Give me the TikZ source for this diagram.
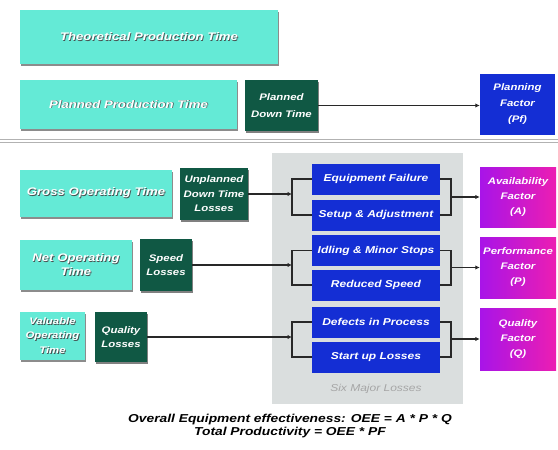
\documentclass[tikz,border=0pt]{standalone}
\usepackage{fontspec}
\setmainfont[FakeStretch=1.2]{Liberation Sans}
\usetikzlibrary{arrows.meta,shadows}
\definecolor{turq}{RGB}{100,234,214}
\definecolor{darkgrn}{RGB}{16,88,68}
\definecolor{lossblue}{RGB}{20,46,212}
\definecolor{factorvio}{RGB}{168,20,232}
\definecolor{factormag}{RGB}{236,30,178}
\definecolor{panelgray}{RGB}{218,222,222}
\definecolor{linegray}{RGB}{40,40,40}
\definecolor{shadowgray}{RGB}{70,80,80}
\newcommand{\sh}[1]{\leavevmode\rlap{\kern0.8pt\raisebox{-0.8pt}{\textcolor{shadowgray}{#1}}}#1}

\begin{document}
\begin{tikzpicture}[x=1pt, y=-1pt,
	box/.style={rectangle, inner sep=1pt, align=center, text=white, font=\bfseries\itshape\fontsize{10}{11}\selectfont},
	timebox/.style={box, fill=turq, font=\bfseries\itshape\fontsize{11}{14}\selectfont, drop shadow={shadow xshift=1pt, shadow yshift=-1.6pt, fill=black!45, opacity=1}},
	lossbox/.style={box, fill=darkgrn, font=\bfseries\itshape\fontsize{9.5}{14.5}\selectfont, drop shadow={shadow xshift=1pt, shadow yshift=-1.6pt, fill=black!50, opacity=1}},
	majorbox/.style={box, fill=lossblue, minimum width=128, minimum height=31},
	factorbox/.style={box, left color=factorvio, right color=factormag, minimum width=76, font=\bfseries\itshape\fontsize{9.5}{15}\selectfont},
	link/.style={draw=linegray, line width=1.2pt},
	arr/.style={link, -{Latex[length=4.5pt,width=4.5pt]}}]
\useasboundingbox (0,0) rectangle (558,450);

% upper part
\node[timebox, minimum width=258, minimum height=54] (tpt) at (149,37) {\sh{Theoretical Production Time}};
\node[timebox, minimum width=217, minimum height=49] (ppt) at (128.5,104.5) {\sh{Planned Production Time}};
\node[lossbox, minimum width=73, minimum height=51, font=\bfseries\itshape\fontsize{9.5}{16.5}\selectfont] (pdt) at (281.5,105.5) {Planned\\Down Time};
\node[box, fill=lossblue, minimum width=75, minimum height=61, font=\bfseries\itshape\fontsize{9.5}{16}\selectfont] (pf) at (517.5,104.5) {Planning\\Factor\\(Pf)};
\draw[arr] (pdt.east) -- (pdt.east -| pf.west);

\draw[gray!60, line width=0.8pt] (0,139) -- (558,139) (0,142) -- (558,142);

% six major losses
\fill[panelgray] (272,153) rectangle (463,404);
\node[text=gray!70, font=\itshape\fontsize{10}{11}\selectfont] (sml) at (376,389) {Six Major Losses};
\foreach \n/\y/\t in {ef/179/Equipment Failure, sa/215/Setup \& Adjustment, im/250.5/Idling \& Minor Stops, rs/285/Reduced Speed, dp/322/Defects in Process, su/357/Start up Losses}
	\node[majorbox] (\n) at (376,\y) {\t};

% left side
\node[timebox, minimum width=152, minimum height=47] (got) at (96,193.5) {\sh{Gross Operating Time}};
\node[lossbox, minimum width=68, minimum height=52] (udt) at (214,194) {Unplanned\\Down Time\\Losses};
\node[timebox, minimum width=112, minimum height=50] (nott) at (76,265) {\sh{Net Operating}\\\sh{Time}};
\node[lossbox, minimum width=52, minimum height=52] (spl) at (166,265) {Speed\\Losses};
\node[timebox, minimum width=65, minimum height=48, font=\bfseries\itshape\fontsize{9.5}{14.5}\selectfont] (vot) at (52.5,336) {\sh{Valuable}\\\sh{Operating}\\\sh{Time}};
\node[lossbox, minimum width=52, minimum height=50] (qll) at (121,337) {Quality\\Losses};

% factors
\node[factorbox, minimum height=60] (af) at (518,197) {Availability\\Factor\\(A)};
\node[factorbox, minimum height=61] (pef) at (518,267.5) {Performance\\Factor\\(P)};
\node[factorbox, minimum height=62] (qf) at (518,339) {Quality\\Factor\\(Q)};

% brackets
\coordinate (jl1) at (292,194);
\coordinate (jl2) at (292,265);
\coordinate (jl3) at (292,337);
\coordinate (jr1) at (af.west -| 451,0);
\coordinate (jr2) at (pef.west -| 451,0);
\coordinate (jr3) at (qf.west -| 451,0);
\draw[arr] (udt.east) -- (jl1);
\draw[arr] (spl.east) -- (jl2);
\draw[arr] (qll.east) -- (jl3);
\draw[link] (ef.west) -| (jl1) |- (sa.west);
\draw[link] (im.west) -| (jl2) |- (rs.west);
\draw[link] (dp.west) -| (jl3) |- (su.west);
\draw[link] (ef.east) -| (jr1) |- (sa.east);
\draw[link] (im.east) -| (jr2) |- (rs.east);
\draw[link] (dp.east) -| (jr3) |- (su.east);
\draw[arr] (jr1) -- (af.west);
\draw[arr] (jr2) -- (pef.west);
\draw[arr] (jr3) -- (qf.west);

\node[align=center, font=\bfseries\itshape\fontsize{11.5}{12.5}\selectfont] (oee) at (290,426) {Overall Equipment effectiveness: OEE = A * P * Q\\Total Productivity = OEE * PF};
\end{tikzpicture}
\end{document}
